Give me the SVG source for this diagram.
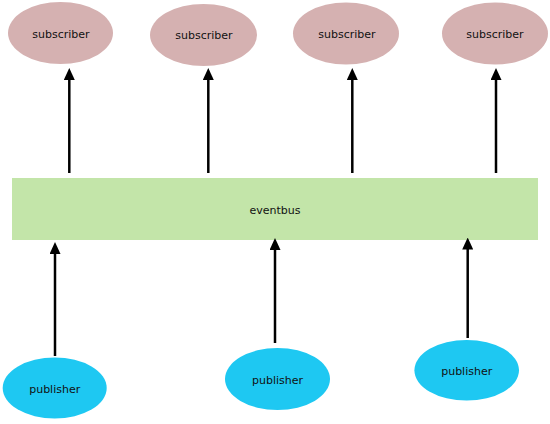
<svg xmlns="http://www.w3.org/2000/svg" width="550" height="424" viewBox="0 0 550 424">
<style>
.sub{fill:#d5b1b1}
.pub{fill:#1ec8f2}
.bus{fill:#c3e5a9}
.lbl{font-family:"DejaVu Sans",Verdana,sans-serif;font-size:11px;fill:#111;text-anchor:middle}
.conn{stroke:#000;stroke-width:2.5;fill:none;marker-end:url(#ah)}
</style>
<defs>
<marker id="ah" viewBox="0 0 12 11" refX="4" refY="5.5" markerWidth="12" markerHeight="11" markerUnits="userSpaceOnUse" orient="auto">
<path d="M0,0 L12,5.5 L0,11 z" fill="#000"/>
</marker>
</defs>
<rect width="550" height="424" fill="#fff"/>
<g id="subscriber1"><ellipse class="sub" cx="60.5" cy="33" rx="52.5" ry="31"/><text class="lbl" x="61" y="38">subscriber</text></g>
<g id="subscriber2"><ellipse class="sub" cx="203.5" cy="35" rx="53.5" ry="31"/><text class="lbl" x="204" y="39">subscriber</text></g>
<g id="subscriber3"><ellipse class="sub" cx="346" cy="33.5" rx="53" ry="31"/><text class="lbl" x="347" y="38">subscriber</text></g>
<g id="subscriber4"><ellipse class="sub" cx="495" cy="33.5" rx="53" ry="31"/><text class="lbl" x="495" y="38">subscriber</text></g>
<g id="eventbus"><rect class="bus" x="12" y="178" width="526" height="62"/><text class="lbl" x="275" y="214">eventbus</text></g>
<g id="publisher1"><ellipse class="pub" cx="54.7" cy="388" rx="52" ry="30.5"/><text class="lbl" x="54.7" y="392.5">publisher</text></g>
<g id="publisher2"><ellipse class="pub" cx="277.5" cy="379" rx="52.5" ry="31"/><text class="lbl" x="277.5" y="383.5">publisher</text></g>
<g id="publisher3"><ellipse class="pub" cx="466.7" cy="370.3" rx="52.3" ry="30.3"/><text class="lbl" x="466.7" y="374.5">publisher</text></g>
<g id="connectors">
<path class="conn" d="M69.3,173 V76"/>
<path class="conn" d="M208.3,173 V76"/>
<path class="conn" d="M352.3,173 V76"/>
<path class="conn" d="M496,173 V76"/>
<path class="conn" d="M55,356 V250"/>
<path class="conn" d="M275,343 V246"/>
<path class="conn" d="M467.7,338 V245.5"/>
</g>
</svg>
